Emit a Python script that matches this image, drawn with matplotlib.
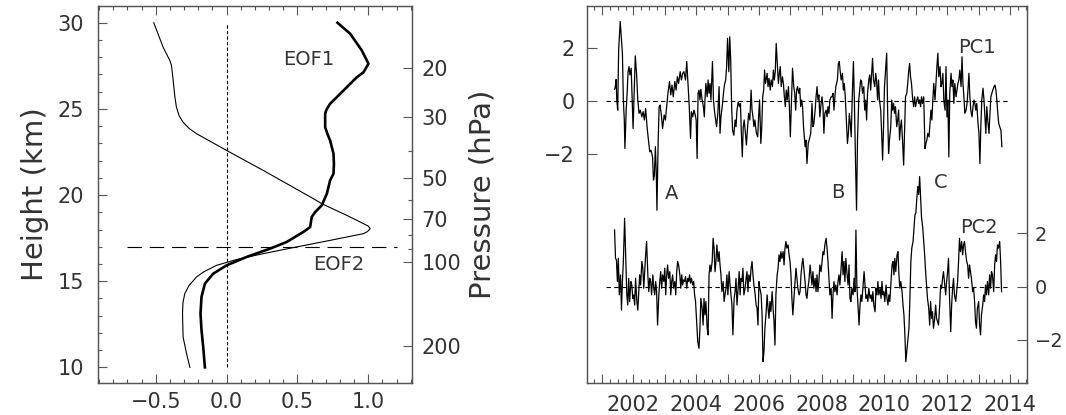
import numpy as np
import matplotlib
matplotlib.use("Agg")
import matplotlib.pyplot as plt
from matplotlib.ticker import FixedLocator, MultipleLocator, NullFormatter, FuncFormatter

# ---------------- data: EOF profiles (left panel) ----------------
eof1_x = [0.783, 0.873, 0.955, 1.002, 0.967, 0.92, 0.849, 0.778, 0.731, 0.705, 0.696, 0.696,
          0.712, 0.731, 0.755, 0.758, 0.755, 0.731, 0.708, 0.672, 0.625, 0.601, 0.590, 0.542,
          0.425, 0.307, 0.142, 0.0, -0.094, -0.153, -0.177, -0.184, -0.177, -0.165, -0.153]
eof1_z = [30.0, 29.36, 28.39, 27.62, 27.13, 26.84, 26.26, 25.68, 25.30, 24.95, 24.72, 23.94,
          23.55, 23.17, 22.40, 21.80, 21.24, 20.85, 20.08, 19.40, 19.01, 18.72, 18.14, 17.86,
          17.28, 16.89, 16.41, 15.92, 15.44, 14.86, 14.09, 13.12, 12.16, 11.19, 10.0]

eof2_x = [-0.514, -0.448, -0.40, -0.389, -0.377, -0.365, -0.354, -0.335, -0.307, -0.262,
          -0.212, 0.0, 0.259, 0.613, 0.672, 0.849, 0.967, 1.000, 1.014, 0.995, 0.967, 0.731,
          0.495, 0.259, 0.071, -0.071, -0.160, -0.212, -0.265, -0.295, -0.308, -0.311, -0.307,
          -0.283, -0.259]
eof2_z = [30.0, 28.58, 27.8, 27.52, 26.65, 25.70, 25.10, 24.60, 24.23, 23.85,
          23.56, 22.59, 21.43, 19.79, 19.50, 18.82, 18.34, 18.20, 18.05, 17.88, 17.76, 17.37,
          16.99, 16.60, 16.26, 15.92, 15.55, 15.25, 14.75, 14.28, 13.75, 13.12, 11.77,
          10.81, 10.0]

p_major = [20, 30, 50, 70, 100, 200]
p_minor = [40, 60, 80, 90]
tropopause_z = 17.0

# ---------------- data: PC time series (right panel) ----------------
pc1_year = [2001.40, 2001.42, 2001.45, 2001.47, 2001.50, 2001.53, 2001.58, 2001.62, 2001.65, 2001.68,
            2001.71, 2001.73, 2001.77, 2001.80, 2001.83, 2001.86, 2001.89, 2001.93, 2001.96, 2001.99,
            2002.02, 2002.06, 2002.10, 2002.14, 2002.18, 2002.22, 2002.27, 2002.31, 2002.35, 2002.39,
            2002.44, 2002.48, 2002.52, 2002.56, 2002.61, 2002.64, 2002.67, 2002.70, 2002.73, 2002.75,
            2002.79, 2002.82, 2002.85, 2002.89, 2002.93, 2002.98, 2003.02, 2003.06, 2003.10, 2003.15,
            2003.19, 2003.23, 2003.27, 2003.32, 2003.36, 2003.40, 2003.44, 2003.49, 2003.53, 2003.57,
            2003.61, 2003.66, 2003.70, 2003.74, 2003.78, 2003.82, 2003.85, 2003.89, 2003.93, 2003.97,
            2004.00, 2004.03, 2004.06, 2004.09, 2004.12, 2004.15, 2004.19, 2004.23, 2004.26, 2004.28,
            2004.31, 2004.35, 2004.38, 2004.41, 2004.44, 2004.47, 2004.52, 2004.55, 2004.58, 2004.62,
            2004.65, 2004.69, 2004.73, 2004.76, 2004.79, 2004.83, 2004.87, 2004.90, 2004.94, 2004.97,
            2005.00, 2005.04, 2005.07, 2005.10, 2005.13, 2005.16, 2005.20, 2005.24, 2005.27, 2005.30,
            2005.34, 2005.38, 2005.41, 2005.44, 2005.47, 2005.50, 2005.53, 2005.57, 2005.60, 2005.64,
            2005.67, 2005.71, 2005.75, 2005.78, 2005.81, 2005.84, 2005.87, 2005.92, 2005.96, 2005.99,
            2006.02, 2006.06, 2006.09, 2006.12, 2006.15, 2006.18, 2006.21, 2006.26, 2006.29, 2006.32,
            2006.36, 2006.39, 2006.43, 2006.46, 2006.49, 2006.52, 2006.55, 2006.59, 2006.62, 2006.65,
            2006.68, 2006.71, 2006.75, 2006.78, 2006.81, 2006.84, 2006.87, 2006.90, 2006.94, 2006.97,
            2007.00, 2007.03, 2007.07, 2007.11, 2007.14, 2007.17, 2007.20, 2007.23, 2007.27, 2007.30,
            2007.33, 2007.36, 2007.39, 2007.42, 2007.47, 2007.50, 2007.53, 2007.57, 2007.60, 2007.65,
            2007.69, 2007.72, 2007.75, 2007.79, 2007.82, 2007.85, 2007.88, 2007.91, 2007.94, 2007.98,
            2008.01, 2008.04, 2008.07, 2008.10, 2008.14, 2008.17, 2008.20, 2008.23, 2008.26, 2008.30,
            2008.33, 2008.36, 2008.39, 2008.42, 2008.45, 2008.50, 2008.53, 2008.56, 2008.59, 2008.62,
            2008.66, 2008.69, 2008.72, 2008.75, 2008.78, 2008.82, 2008.85, 2008.88, 2008.91, 2008.94,
            2008.97, 2009.01, 2009.04, 2009.08, 2009.11, 2009.14, 2009.18, 2009.21, 2009.24, 2009.27,
            2009.30, 2009.34, 2009.37, 2009.40, 2009.43, 2009.46, 2009.50, 2009.53, 2009.56, 2009.59,
            2009.62, 2009.65, 2009.69, 2009.72, 2009.75, 2009.78, 2009.81, 2009.84, 2009.88, 2009.91,
            2009.94, 2009.97, 2010.00, 2010.04, 2010.07, 2010.10, 2010.13, 2010.16, 2010.20, 2010.23,
            2010.26, 2010.29, 2010.32, 2010.35, 2010.39, 2010.42, 2010.45, 2010.48, 2010.51, 2010.54,
            2010.58, 2010.61, 2010.64, 2010.67, 2010.71, 2010.74, 2010.77, 2010.80, 2010.83, 2010.86,
            2010.90, 2010.93, 2010.96, 2010.99, 2011.03, 2011.06, 2011.09, 2011.12, 2011.15, 2011.18,
            2011.21, 2011.25, 2011.29, 2011.32, 2011.35, 2011.38, 2011.42, 2011.45, 2011.48, 2011.51,
            2011.54, 2011.57, 2011.61, 2011.64, 2011.67, 2011.70, 2011.73, 2011.77, 2011.80, 2011.83,
            2011.86, 2011.89, 2011.93, 2011.96, 2011.99, 2012.02, 2012.05, 2012.08, 2012.12, 2012.15,
            2012.18, 2012.21, 2012.24, 2012.28, 2012.31, 2012.34, 2012.37, 2012.40, 2012.44, 2012.47,
            2012.50, 2012.53, 2012.56, 2012.60, 2012.63, 2012.66, 2012.69, 2012.72, 2012.75, 2012.79,
            2012.82, 2012.85, 2012.88, 2012.91, 2012.94, 2012.98, 2013.01, 2013.04, 2013.07, 2013.10,
            2013.14, 2013.17, 2013.20, 2013.23, 2013.26, 2013.29, 2013.33, 2013.36, 2013.39, 2013.42,
            2013.45, 2013.49, 2013.52, 2013.55, 2013.58, 2013.61, 2013.64, 2013.67, 2013.71, 2013.74]
pc1_val = [0.44, 0.51, 0.81, 0.04, -0.34, 1.91, 2.98, 2.29, 1.79, 0.04,
           -0.71, -1.78, -0.34, 0.29, 1.10, 1.29, 0.98, 1.23, 0.04, -1.03,
           0.16, 1.69, 1.04, 0.04, -0.46, -0.34, -0.59, -0.40, -0.71, -0.28,
           -1.03, -1.46, -1.90, -1.84, -2.09, -2.96, -2.78, -1.71, -2.71, -4.09,
           -1.46, -0.21, -0.15, -0.52, -1.03, -0.52, -0.71, -0.21, 0.29, 0.73,
           0.23, 0.60, 0.16, 0.73, 0.41, 0.91, 0.66, 1.10, 0.79, 1.04,
           1.10, 0.79, 1.48, 0.60, -0.21, -1.40, -0.40, -0.59, -0.34, -0.52,
           -0.71, -2.15, 0.29, 0.41, 0.04, 0.44, 0.04, -0.21, -0.59, 0.04,
           0.66, 0.16, 0.79, 0.29, 0.66, 0.04, 1.48, 0.04, -0.34, -0.71,
           -0.96, -0.46, 0.54, -1.21, -0.59, -0.21, 0.29, 0.60, 0.79, 1.29,
           2.35, 1.10, 2.41, 1.54, -0.21, -1.09, -1.28, -0.71, -0.96, -0.34,
           -0.03, -0.21, -0.09, -1.21, -2.09, -0.96, -0.71, -1.21, -1.65, -0.96,
           -0.46, -0.71, 0.41, -0.34, -0.59, -0.96, -0.71, -1.21, -1.34, -0.59,
           0.04, -1.59, -0.96, 0.16, 0.41, 1.16, 0.66, 1.04, 0.54, 0.85,
           0.41, 0.79, 0.54, 1.16, 0.79, 1.10, 2.16, 1.29, 0.66, 1.04,
           1.29, 0.54, 0.91, 0.66, 0.16, -0.21, 0.41, 0.04, 0.54, -0.21,
           -1.34, -0.21, 1.23, 0.54, 0.29, -0.34, 0.41, 0.54, 0.29, 0.48,
           -0.21, 0.04, -0.21, -0.96, -1.71, -1.46, -2.34, -1.59, -1.46, -1.21,
           -0.09, -0.96, -0.84, -0.34, 0.16, 0.54, 0.04, 0.23, -0.59, -0.09,
           0.16, -0.21, -1.21, -0.46, -0.34, -0.59, -0.21, -0.46, 0.04, 0.16,
           0.16, 0.29, -0.34, 0.16, 0.54, 0.79, 1.41, 1.48, 1.10, 0.79,
           1.04, 0.41, 0.66, 0.16, -0.59, -1.59, -1.21, -0.46, -0.84, -1.34,
           0.04, 1.48, 0.04, -2.46, -4.09, -1.46, 0.04, 0.41, 0.79, 0.73,
           0.29, 0.54, -0.34, 0.04, -0.71, 0.29, 0.79, 0.98, 0.41, 1.04,
           1.60, 0.79, 0.54, 1.04, 0.73, 0.04, 0.79, 0.04, -0.34, -1.21,
           -2.21, -0.96, 0.54, 1.29, 1.79, -0.34, -1.96, -1.46, -0.96, 0.04,
           -0.34, -0.09, -0.46, -0.21, -0.96, -0.71, -0.34, -1.46, -0.96, -0.71,
           -1.59, -2.40, -1.09, 0.16, 0.29, 0.66, 1.10, 1.41, 0.91, 0.66,
           0.04, -0.21, 0.16, -0.21, 0.04, 0.16, -0.09, 0.04, -0.21, 0.16,
           -0.09, 0.16, -1.78, -1.59, -1.46, -1.21, -1.34, -0.84, -0.34, -0.71,
           0.04, 0.66, 0.04, 0.66, 1.29, 1.79, 0.91, 1.29, 0.54, 0.66,
           1.04, 0.04, -0.34, 1.29, -0.59, 0.04, -2.09, 0.29, 1.04, 0.54,
           0.79, -0.09, 0.66, 0.16, 0.41, 0.66, 0.79, 1.16, 0.54, 1.66,
           0.66, 0.16, -0.46, -0.34, -0.09, 0.41, 1.04, 0.16, -0.34, -0.59,
           -0.21, 0.04, -0.09, -0.34, -0.09, -0.84, -1.21, -2.34, -0.96, 0.04,
           0.48, 0.04, -0.59, -1.21, -0.21, -0.71, -1.21, -0.46, 0.16, 0.29,
           0.41, 0.54, 0.60, 0.41, 0.04, -0.46, -0.84, -0.96, -1.09, -1.71]

pc2_year = [2001.40, 2001.43, 2001.46, 2001.49, 2001.52, 2001.55, 2001.59, 2001.62, 2001.65, 2001.68,
            2001.72, 2001.76, 2001.79, 2001.82, 2001.85, 2001.88, 2001.92, 2001.95, 2001.98, 2002.01,
            2002.04, 2002.07, 2002.11, 2002.14, 2002.17, 2002.20, 2002.23, 2002.27, 2002.30, 2002.33,
            2002.36, 2002.39, 2002.42, 2002.46, 2002.49, 2002.52, 2002.55, 2002.58, 2002.62, 2002.65,
            2002.68, 2002.71, 2002.74, 2002.77, 2002.81, 2002.84, 2002.87, 2002.90, 2002.93, 2002.97,
            2003.00, 2003.03, 2003.06, 2003.09, 2003.12, 2003.16, 2003.19, 2003.22, 2003.25, 2003.28,
            2003.32, 2003.35, 2003.38, 2003.41, 2003.44, 2003.48, 2003.51, 2003.54, 2003.57, 2003.60,
            2003.63, 2003.66, 2003.70, 2003.73, 2003.76, 2003.79, 2003.82, 2003.85, 2003.89, 2003.92,
            2003.95, 2003.98, 2004.02, 2004.05, 2004.09, 2004.12, 2004.15, 2004.19, 2004.22, 2004.25,
            2004.28, 2004.31, 2004.35, 2004.38, 2004.41, 2004.44, 2004.47, 2004.51, 2004.54, 2004.57,
            2004.60, 2004.63, 2004.66, 2004.70, 2004.73, 2004.76, 2004.79, 2004.82, 2004.86, 2004.89,
            2004.92, 2004.95, 2004.98, 2005.01, 2005.05, 2005.08, 2005.11, 2005.14, 2005.17, 2005.21,
            2005.24, 2005.27, 2005.30, 2005.33, 2005.37, 2005.40, 2005.43, 2005.46, 2005.49, 2005.52,
            2005.56, 2005.59, 2005.62, 2005.65, 2005.68, 2005.72, 2005.75, 2005.78, 2005.81, 2005.84,
            2005.87, 2005.91, 2005.94, 2005.97, 2006.00, 2006.03, 2006.07, 2006.10, 2006.13, 2006.16,
            2006.19, 2006.23, 2006.26, 2006.29, 2006.32, 2006.35, 2006.38, 2006.42, 2006.45, 2006.48,
            2006.51, 2006.54, 2006.58, 2006.61, 2006.64, 2006.67, 2006.70, 2006.73, 2006.77, 2006.80,
            2006.83, 2006.86, 2006.89, 2006.93, 2006.96, 2006.99, 2007.02, 2007.05, 2007.08, 2007.12,
            2007.15, 2007.18, 2007.21, 2007.24, 2007.28, 2007.31, 2007.34, 2007.37, 2007.40, 2007.44,
            2007.47, 2007.50, 2007.53, 2007.56, 2007.59, 2007.63, 2007.66, 2007.69, 2007.72, 2007.75,
            2007.79, 2007.82, 2007.85, 2007.88, 2007.91, 2007.94, 2007.98, 2008.01, 2008.04, 2008.07,
            2008.10, 2008.14, 2008.17, 2008.20, 2008.23, 2008.26, 2008.30, 2008.33, 2008.36, 2008.39,
            2008.42, 2008.45, 2008.49, 2008.52, 2008.55, 2008.58, 2008.61, 2008.65, 2008.68, 2008.71,
            2008.74, 2008.77, 2008.80, 2008.84, 2008.87, 2008.90, 2008.93, 2008.96, 2009.00, 2009.03,
            2009.06, 2009.09, 2009.12, 2009.15, 2009.19, 2009.22, 2009.25, 2009.28, 2009.31, 2009.35,
            2009.38, 2009.41, 2009.44, 2009.47, 2009.50, 2009.54, 2009.57, 2009.60, 2009.63, 2009.66,
            2009.70, 2009.73, 2009.76, 2009.79, 2009.82, 2009.86, 2009.89, 2009.92, 2009.95, 2009.98,
            2010.01, 2010.05, 2010.08, 2010.11, 2010.14, 2010.17, 2010.21, 2010.24, 2010.27, 2010.30,
            2010.33, 2010.36, 2010.40, 2010.43, 2010.46, 2010.49, 2010.52, 2010.56, 2010.59, 2010.62,
            2010.65, 2010.68, 2010.72, 2010.75, 2010.78, 2010.81, 2010.84, 2010.87, 2010.91, 2010.94,
            2010.97, 2011.00, 2011.03, 2011.06, 2011.09, 2011.12, 2011.15, 2011.18, 2011.22, 2011.25,
            2011.28, 2011.31, 2011.34, 2011.37, 2011.41, 2011.44, 2011.47, 2011.50, 2011.53, 2011.56,
            2011.60, 2011.63, 2011.66, 2011.69, 2011.72, 2011.76, 2011.79, 2011.82, 2011.85, 2011.88,
            2011.92, 2011.95, 2011.98, 2012.01, 2012.04, 2012.07, 2012.11, 2012.14, 2012.17, 2012.20,
            2012.23, 2012.27, 2012.30, 2012.33, 2012.36, 2012.39, 2012.42, 2012.46, 2012.49, 2012.52,
            2012.55, 2012.58, 2012.62, 2012.65, 2012.68, 2012.71, 2012.74, 2012.77, 2012.81, 2012.84,
            2012.87, 2012.90, 2012.93, 2012.96, 2013.00, 2013.03, 2013.06, 2013.09, 2013.13, 2013.16,
            2013.19, 2013.22, 2013.25, 2013.28, 2013.32, 2013.35, 2013.38, 2013.41, 2013.44, 2013.48,
            2013.51, 2013.54, 2013.57, 2013.60, 2013.63, 2013.67, 2013.70, 2013.73]
pc2_val = [2.12, 1.06, 1.00, 0.19, 1.06, -0.31, 0.44, -0.88, 0.19, 0.94,
           2.56, 0.94, -0.31, -0.69, 0.31, -0.56, 0.19, 0.06, -0.44, -0.31,
           -0.69, 0.31, -0.56, -0.88, -0.19, 0.44, 0.06, 0.94, 0.69, -0.06,
           0.56, 1.19, 1.69, 0.44, -0.19, 0.31, 0.19, -0.31, 0.44, -0.06,
           -0.31, 0.19, -0.19, -1.44, -0.31, 0.19, 0.56, -0.06, 0.44, 0.19,
           0.69, -0.31, 0.44, 0.81, 0.31, 0.56, -0.31, 0.19, 0.44, -0.06,
           0.19, -0.31, 0.56, 0.94, 0.81, 0.44, -0.06, 0.44, 0.06, 0.25,
           0.19, 0.38, -0.06, 0.31, 0.19, 0.44, 0.13, 0.31, 0.06, 0.19,
           -0.31, -0.56, -1.44, -2.06, -2.31, -1.56, -0.44, -0.81, -1.44, -0.44,
           -1.06, -0.56, -1.56, -1.81, 0.44, 0.81, 0.56, 0.94, 1.81, 1.44,
           0.56, 0.94, 1.56, 0.94, 1.31, 0.81, 0.44, -0.19, 0.19, -0.56,
           -0.31, -0.06, 0.44, -0.31, 0.56, 0.06, -0.31, -0.69, -1.81, -0.44,
           -0.19, 0.31, -0.69, -0.19, 0.56, -0.31, 0.31, 0.19, 0.69, -0.31,
           -0.06, 0.31, 0.56, -0.19, 0.44, 0.19, 0.69, 0.94, 0.44, 0.06,
           -0.19, -0.69, -0.81, -1.44, 0.19, -0.06, -0.31, -1.06, -2.81, -2.44,
           -1.56, -0.94, -0.31, -0.81, -1.19, -0.56, -0.94, -0.19, -0.81, -1.31,
           -2.19, -0.31, 0.44, 0.69, 1.19, 0.94, 1.31, 1.06, 1.31, 0.81,
           1.44, 1.69, 1.44, 1.56, 1.19, 0.94, 0.44, -0.44, -1.06, -0.31,
           0.19, 0.69, 0.31, -0.06, -0.31, -0.19, 0.44, 0.81, 1.06, 0.56,
           0.19, -0.31, -0.44, -0.06, 0.19, 0.81, 0.44, 0.06, 0.56, -0.06,
           0.31, -0.19, 0.44, -0.19, 0.19, 0.81, 0.56, 0.94, 1.31, 1.19,
           1.56, 1.81, 1.44, 0.94, 0.31, -0.31, -0.06, -1.19, -0.31, 0.19,
           -0.19, 0.06, -0.31, 0.19, 0.44, 0.06, 0.56, 1.31, 0.44, 0.94,
           0.19, 1.06, 0.56, 0.06, 0.81, -0.44, -0.56, -0.06, -0.31, 0.31,
           -0.19, 2.12, 0.06, -0.56, -1.44, -0.69, -0.31, -0.56, -0.06, 0.56,
           0.06, -0.44, -0.31, -0.56, -0.06, -0.44, -0.31, -0.56, -0.19, -0.69,
           -0.94, -0.06, -0.31, 0.19, -0.31, -0.06, -0.44, 0.19, -0.31, -0.19,
           -0.56, 0.06, -0.44, -0.69, -0.31, -0.56, 0.19, 0.81, 0.94, 0.44,
           1.06, 0.56, 1.19, 1.31, 0.44, -0.06, 0.19, -0.19, -0.69, -1.06,
           -1.81, -2.81, -2.31, -1.94, -1.56, -0.44, 0.94, 1.44, 1.69, 2.19,
           2.69, 2.76, 3.30, 3.75, 3.45, 4.12, 3.40, 2.60, 2.20, 1.69,
           1.19, 0.56, 0.06, -0.44, -0.81, -1.44, -0.56, -1.19, -0.94, -1.56,
           -1.19, -0.69, -1.19, -1.31, -1.44, -0.69, 0.06, -0.06, 0.31, 0.56,
           0.06, -0.31, 0.19, 0.56, 1.06, -0.31, -1.69, -0.69, -0.06, 0.31,
           -0.31, -0.56, -0.19, 0.19, 0.94, 1.81, 1.31, 1.69, 1.19, 1.56,
           1.69, 1.31, 0.94, 0.81, 0.31, 0.81, 0.56, 0.31, -0.19, -0.06,
           -0.56, -1.31, -1.56, -0.81, -0.56, -1.44, -1.81, -1.06, -0.69, -0.31,
           -0.56, 0.06, -0.31, 0.19, -0.31, 0.44, -0.06, 0.56, 0.44, -0.19,
           0.81, 1.19, 0.94, 1.56, 1.44, 1.69, 0.94, -0.19]

pc_ticks = [-2, 0, 2]
year_labels = [2002, 2004, 2006, 2008, 2010, 2012, 2014]
event_labels = ['A', 'B', 'C']
event_years = [2003.22, 2008.52, 2011.79]
event_vals = [-3.48, -3.42, -3.05]

# ---------------- style ----------------
plt.rcParams['font.family'] = ['DejaVu Sans']
txt_c = '#333333'
ax_c = '#555555'
fs_tick = 15
fs_lab = 21


def style_ticks(ax, **kw):
    ax.tick_params(which='both', direction='in', colors=ax_c, labelcolor=txt_c,
                   labelsize=fs_tick, width=0.8, **kw)
    ax.tick_params(which='major', length=6.5)
    ax.tick_params(which='minor', length=3.2)
    for s in ax.spines.values():
        s.set_color(ax_c)
        s.set_linewidth(0.9)


fig = plt.figure(figsize=(10.66, 4.15), dpi=100)

# ================= left panel: EOF profiles =================
ax1 = fig.add_axes([0.0919, 0.0778, 0.2943, 0.9077])
ax1.plot(eof2_x, eof2_z, color='k', lw=0.8)
ax1.plot(eof1_x, eof1_z, color='k', lw=1.9)
ax1.plot([0, 0], [10, 30], color='k', lw=0.8, linestyle=(0, (3, 2)))
ax1.plot([-0.70, 1.20], [tropopause_z, tropopause_z], color='k', lw=0.8,
         linestyle=(0, (13, 7)))
ax1.text(0.578, 27.86, 'EOF1', fontsize=14, color=txt_c, ha='center', va='center')
ax1.text(0.79, 15.98, 'EOF2', fontsize=14, color=txt_c, ha='center', va='center')

ax1.set_xlim(-0.908, 1.307)
ax1.set_ylim(9.11, 30.97)
ax1.xaxis.set_major_locator(FixedLocator([-0.5, 0.0, 0.5, 1.0]))
ax1.xaxis.set_minor_locator(MultipleLocator(0.1))
ax1.xaxis.set_major_formatter(FuncFormatter(lambda v, p: f'{v:.1f}'.replace('-', '\u2212')))
ax1.yaxis.set_major_locator(MultipleLocator(5))
ax1.yaxis.set_minor_locator(MultipleLocator(1))
style_ticks(ax1, top=True, right=False)
ax1.tick_params(axis='x', pad=7)
ax1.tick_params(axis='y', pad=10)
ax1.set_ylabel('Height (km)', fontsize=fs_lab, color=txt_c, labelpad=6)

# pressure axis: z = 7 ln(1000/p)
axp = ax1.twinx()
axp.set_yscale('log')
axp.set_ylim(1000 * np.exp(-9.11 / 7), 1000 * np.exp(-30.97 / 7))
axp.yaxis.set_major_locator(FixedLocator(p_major))
axp.yaxis.set_minor_locator(FixedLocator(p_minor))
axp.yaxis.set_major_formatter(FuncFormatter(lambda v, p: f'{v:g}'))
axp.yaxis.set_minor_formatter(NullFormatter())
style_ticks(axp)
axp.tick_params(axis='y', pad=7)
axp.set_ylabel('Pressure (hPa)', fontsize=fs_lab, color=txt_c, labelpad=5)

# ================= right panel: PC time series =================
ax2 = fig.add_axes([0.5509, 0.0778, 0.4122, 0.9077])
ax2.plot(pc1_year, pc1_val, color='k', lw=0.9)
ax2.plot([2001.12, 2013.94], [0, 0], color='k', lw=0.8, linestyle=(0, (4, 3)))
ax2.set_xlim(2000.53, 2014.53)
ax2.set_ylim(-10.55, 3.56)
ax2.yaxis.set_major_locator(FixedLocator(pc_ticks))
ax2.yaxis.set_major_formatter(FuncFormatter(lambda v, p: f'{v:g}'.replace('-', '\u2212')))
ax2.xaxis.set_major_locator(MultipleLocator(1))
ax2.xaxis.set_minor_locator(MultipleLocator(0.25))
ax2.xaxis.set_major_formatter(
    FuncFormatter(lambda v, p: f'{int(round(v))}' if int(round(v)) in year_labels else ''))
style_ticks(ax2, top=True, right=False)
ax2.tick_params(axis='y', which='major', length=7, pad=9)
ax2.tick_params(axis='x', pad=9)
ax2.text(2012.96, 2.0, 'PC1', fontsize=14, color=txt_c, ha='center', va='center')
for lab, yr, v in zip(event_labels, event_years, event_vals):
    ax2.text(yr, v, lab, fontsize=14, color=txt_c, ha='center', va='center')

ax3 = ax2.twinx()
ax3.plot(pc2_year, pc2_val, color='k', lw=0.9)
ax3.plot([2001.12, 2013.94], [0, 0], color='k', lw=0.8, linestyle=(0, (4, 3)))
ax3.set_ylim(-3.6, 10.51)
ax3.yaxis.set_major_locator(FixedLocator(pc_ticks))
ax3.yaxis.set_major_formatter(FuncFormatter(lambda v, p: f'{v:g}'.replace('-', '\u2212')))
style_ticks(ax3)
ax3.tick_params(axis='y', which='major', length=7, pad=6, labelsize=14)
ax3.text(2013.01, 2.22, 'PC2', fontsize=14, color=txt_c, ha='center', va='center')

fig.savefig('out.png', dpi=100)
